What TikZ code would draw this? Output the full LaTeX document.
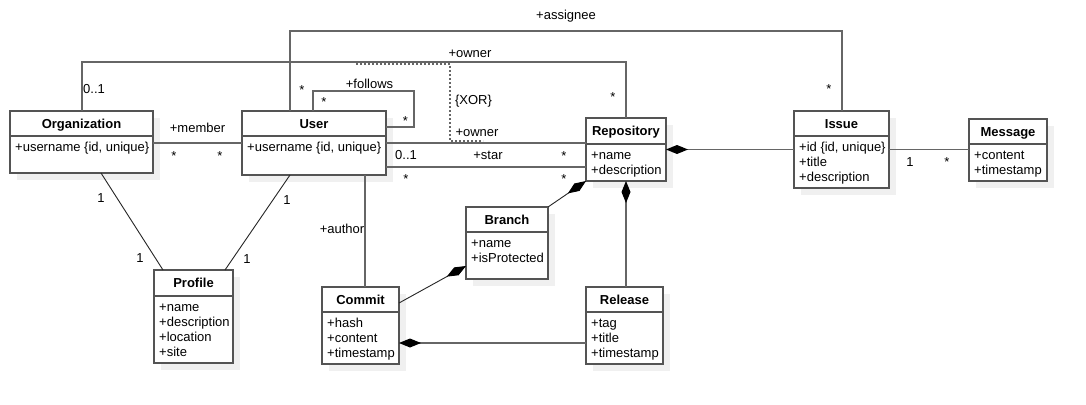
\documentclass[tikz,border=0pt]{standalone}
\usepackage{fontspec}
\setmainfont{Liberation Sans}
\usetikzlibrary{arrows.meta,shadows}

\definecolor{boxC}{gray}{0.33}
\definecolor{lineC}{gray}{0.40}

\begin{document}
\begin{tikzpicture}[x=1pt,y=-1pt]

    \tikzset{
      cls/.style={
        draw=boxC,
        fill=white,
        line width=1.4pt,
        anchor=north west,
        inner sep=0pt,
        outer sep=0pt,
        drop shadow={shadow xshift=7pt,shadow yshift=-7pt,fill=black!6,opacity=1},
      },
      sep/.style={draw=boxC, line width=1.4pt},
      ttl/.style={anchor=base, inner sep=0pt, font=\fontsize{13}{15}\selectfont\bfseries},
      att/.style={anchor=north west, inner sep=0pt, align=left, font=\fontsize{13}{15}\selectfont},
      lbl/.style={anchor=base, inner sep=0pt, font=\fontsize{13}{15}\selectfont},
      assoc/.style={draw=lineC, line width=1.3pt},
      thinline/.style={draw=black!85, line width=0.9pt},
      comp/.style={assoc, -{Diamond[length=22pt,width=9pt,color=black]}},
      thincomp/.style={thinline, -{Diamond[length=22pt,width=9pt,color=black]}},
      xor/.style={draw=lineC, line width=1.2pt, dash pattern=on 2pt off 2pt},
    }
    \useasboundingbox (0,0) rectangle (1086,404);
    \fill[white] (0,0) rectangle (1086,404);

    % classes
    \node[cls, minimum width=143, minimum height=62] (org) at (10,111) {};
    \draw[sep] (10,136) -- (153,136);
    \node[ttl] (orgT) at (81.5,128.5) {Organization};
    \node[att] (orgA) at (15,141.2) {\strut+username \{id, unique\}};

    \node[cls, minimum width=144, minimum height=64] (user) at (242,111) {};
    \draw[sep] (242,136) -- (386,136);
    \node[ttl] (userT) at (314,128.5) {User};
    \node[att] (userA) at (247,141.2) {\strut+username \{id, unique\}};

    \node[cls, minimum width=80, minimum height=63] (repo) at (586,118) {};
    \draw[sep] (586,144) -- (666,144);
    \node[ttl] (repoT) at (626,135.5) {Repository};
    \node[att] (repoA) at (591,149.2) {\strut+name\\+description};

    \node[cls, minimum width=95, minimum height=77] (issue) at (794,111) {};
    \draw[sep] (794,136) -- (889,136);
    \node[ttl] (issueT) at (841.5,128.5) {Issue};
    \node[att] (issueA) at (799,141.2) {\strut+id \{id, unique\}\\+title\\+description};

    \node[cls, minimum width=78, minimum height=62] (msg) at (969,119) {};
    \draw[sep] (969,144) -- (1047,144);
    \node[ttl] (msgT) at (1008,136.5) {Message};
    \node[att] (msgA) at (974,149.2) {\strut+content\\+timestamp};

    \node[cls, minimum width=79, minimum height=93] (profile) at (154,270) {};
    \draw[sep] (154,296) -- (233,296);
    \node[ttl] (profileT) at (193.5,287.5) {Profile};
    \node[att] (profileA) at (159,301.2) {\strut+name\\+description\\+location\\+site};

    \node[cls, minimum width=77, minimum height=77] (commit) at (322,287) {};
    \draw[sep] (322,312) -- (399,312);
    \node[ttl] (commitT) at (360.5,304.5) {Commit};
    \node[att] (commitA) at (327,317.2) {\strut+hash\\+content\\+timestamp};

    \node[cls, minimum width=82, minimum height=72] (branch) at (466,207) {};
    \draw[sep] (466,232) -- (548,232);
    \node[ttl] (branchT) at (507,224.5) {Branch};
    \node[att] (branchA) at (471,237.2) {\strut+name\\+isProtected};

    \node[cls, minimum width=77, minimum height=77] (release) at (586,287) {};
    \draw[sep] (586,312) -- (663,312);
    \node[ttl] (releaseT) at (624.5,304.5) {Release};
    \node[att] (releaseA) at (591,317.2) {\strut+tag\\+title\\+timestamp};

    % associations
    \draw[assoc] (org.east |- 0,143) -- (user.west |- 0,143);
    \draw[assoc] ([xshift=72pt]org.north west) -- ++(0,-49) -| (repo.north);
    \draw[assoc] ([xshift=48pt]user.north west) -- ++(0,-80) -| ([xshift=48pt]issue.north west);
    \draw[assoc] ([xshift=71pt]user.north west) -- ++(0,-20) -- ++(101,0) |- ([yshift=-16pt]user.north east);
    \draw[assoc] (user.east) -- (user.east -| repo.west);
    \draw[assoc] ([yshift=-56pt]user.north east) -- ([yshift=-56pt]user.north east -| repo.west);
    \draw[assoc] (issue.east) -- (issue.east -| msg.west);
    \draw[assoc] ([xshift=43pt]commit.north west) -- ([xshift=43pt]commit.north west |- user.south);
    \draw[thinline] ([xshift=91pt]org.south west) -- ([xshift=9pt]profile.north west);
    \draw[thinline] ([xshift=48pt]user.south west) -- ([xshift=71pt]profile.north west);

    % compositions
    \draw[comp] (issue.west) -- (repo.east);
    \draw[comp] (repo.south |- release.north) -- (repo.south);
    \draw[thincomp] (branch.north east) -- (repo.south west);
    \draw[thincomp] ([yshift=-16pt]commit.north east) -- ([yshift=-59pt]branch.north west);
    \draw[comp] ([yshift=-56pt]release.north west) -- ([yshift=-56pt]release.north west -| commit.east);

    % xor constraint
    \coordinate (xorA) at (356,64);
    \coordinate (xorB) at (483,141);
    \draw[xor] (xorA) -- (450,64) -- (450,141) -- (xorB);

    % labels
    \node[lbl] (memberN) at (197.5,132) {+member};
    \node[lbl] (memberM1) at (174,160) {*};
    \node[lbl] (memberM2) at (220,160) {*};
    \node[lbl] (orgOwnM1) at (94,93) {0..1};
    \node[lbl] (orgOwnN) at (470,57) {+owner};
    \node[lbl] (orgOwnM2) at (613,101) {*};
    \node[lbl] (assignN) at (566,20) {+assignee};
    \node[lbl] (assignM1) at (302,94) {*};
    \node[lbl] (assignM2) at (829,93) {*};
    \node[lbl] (followN) at (369.5,88.5) {+follows};
    \node[lbl] (followM1) at (324,106) {*};
    \node[lbl] (followM2) at (405.5,125) {*};
    \node[lbl] (xorN) at (473.5,104) {\{XOR\}};
    \node[lbl] (userOwnN) at (477,136) {+owner};
    \node[lbl] (userOwnM1) at (406,159) {0..1};
    \node[lbl] (userOwnM2) at (564,160) {*};
    \node[lbl] (starN) at (488,159) {+star};
    \node[lbl] (starM1) at (406,183) {*};
    \node[lbl] (starM2) at (564,183) {*};
    \node[lbl] (msgM1) at (910,166) {1};
    \node[lbl] (msgM2) at (947,166) {*};
    \node[lbl] (authorN) at (342,233) {+author};
    \node[lbl] (orgProfM1) at (101,202) {1};
    \node[lbl] (orgProfM2) at (140,262) {1};
    \node[lbl] (userProfM1) at (287,204) {1};
    \node[lbl] (userProfM2) at (247,263) {1};

\end{tikzpicture}
\end{document}
